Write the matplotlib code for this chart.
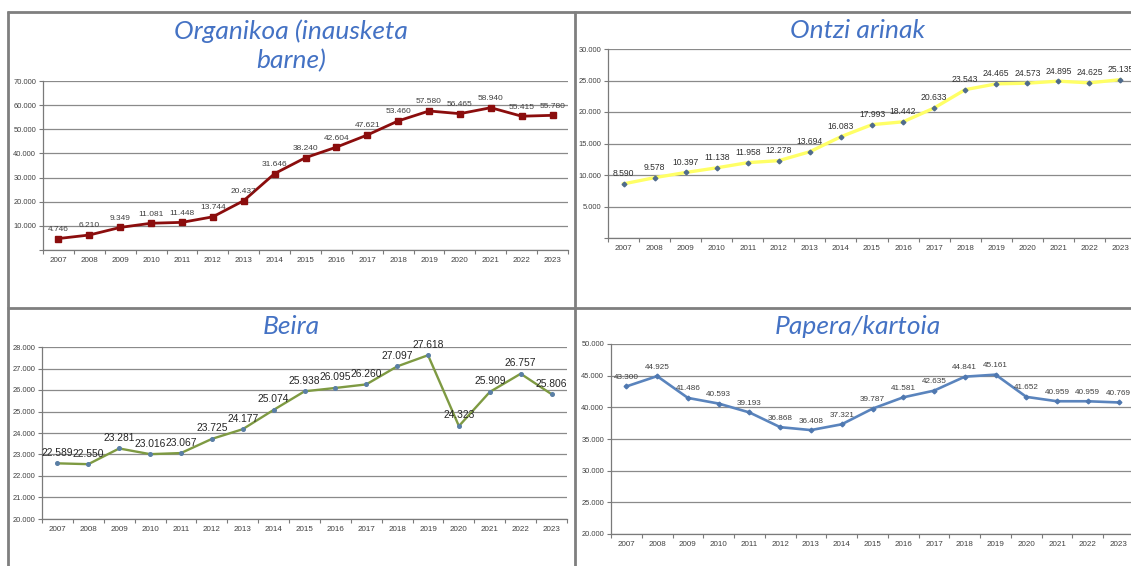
import matplotlib
matplotlib.use("Agg")
import matplotlib.pyplot as plt
from matplotlib.lines import Line2D
from matplotlib.ticker import FixedLocator, FuncFormatter

years = [str(y) for y in range(2007, 2024)]

organikoa = [4746, 6210, 9349, 11081, 11448, 13744, 20437, 31646, 38240,
             42604, 47621, 53460, 57580, 56465, 58940, 55415, 55780]
ontzi_arinak = [8590, 9578, 10397, 11138, 11958, 12278, 13694, 16083, 17993,
                18442, 20633, 23543, 24465, 24573, 24895, 24625, 25135]
beira = [22589, 22550, 23281, 23016, 23067, 23725, 24177, 25074, 25938,
         26095, 26260, 27097, 27618, 24323, 25909, 26757, 25806]
papera = [43300, 44925, 41486, 40593, 39193, 36868, 36408, 37321, 39787,
          41581, 42635, 44841, 45161, 41652, 40959, 40959, 40769]

titles = ["Organikoa (inausketa\nbarne)", "Ontzi arinak", "Beira", "Papera/kartoia"]

W, H = 1131, 566
plt.rcParams['font.family'] = ['Liberation Sans', 'DejaVu Sans']

fig = plt.figure(figsize=(W / 100, H / 100), dpi=100)
fig.patch.set_facecolor('white')


def px_rect(left, top, right, bottom):
    return [left / W, 1 - bottom / H, (right - left) / W, (bottom - top) / H]


def thousands(v, pos=None):
    return f"{int(round(v)):,}".replace(",", ".")


def draw_panel(rect, values, yticks, hide_zero, color, lw, marker, ms, mcolor,
               label_size, label_color):
    ax = fig.add_axes(px_rect(*rect))
    x = list(range(len(years)))
    ax.plot(x, values, color=color, lw=lw, marker=marker, ms=ms,
            mfc=mcolor, mec=mcolor, zorder=3, solid_joinstyle='round')
    for xi, v in zip(x, values):
        ax.annotate(thousands(v), (xi, v), xytext=(0, 4), textcoords='offset points',
                    ha='center', va='bottom', fontsize=label_size, color=label_color,
                    zorder=4)
    ax.set_xlim(-0.5, len(years) - 0.5)
    ax.set_ylim(yticks[0], yticks[-1])
    ax.yaxis.set_major_locator(FixedLocator(yticks))
    ax.yaxis.set_major_formatter(
        FuncFormatter(lambda v, p: "" if (hide_zero and v == 0) else thousands(v)))
    ax.grid(axis='y', color='#8a8a8a', lw=0.9, zorder=1)
    ax.set_axisbelow(True)

    # category axis: ticks between years, labels under each year
    ax.xaxis.set_major_locator(FixedLocator([i - 0.5 for i in range(len(years) + 1)]))
    ax.xaxis.set_major_formatter(FuncFormatter(lambda v, p: ""))
    ax.xaxis.set_minor_locator(FixedLocator(x))
    ax.set_xticklabels(years, minor=True)
    ax.tick_params(axis='x', which='minor', length=0, pad=5, labelsize=5.8,
                   labelcolor='#404040')
    ax.tick_params(axis='x', which='major', length=3, width=0.8, color='#7a7a7a',
                   direction='out')
    ax.tick_params(axis='y', length=3, width=0.8, color='#7a7a7a', direction='out',
                   labelsize=5.4, labelcolor='#404040', pad=2)

    for side in ['top', 'right']:
        ax.spines[side].set_visible(False)
    for side in ['left', 'bottom']:
        ax.spines[side].set_color('#7a7a7a')
        ax.spines[side].set_linewidth(0.9)
    return ax


draw_panel((43, 81, 568, 250), organikoa, list(range(0, 70001, 10000)), True,
           '#8b0d0d', 2.0, 's', 5.0, '#8b0d0d', 6.0, '#404040')
draw_panel((608, 49, 1136, 238), ontzi_arinak, list(range(0, 30001, 5000)), True,
           '#ffff66', 2.4, 'D', 2.4, '#4f6b8c', 6.2, '#303030')
draw_panel((42, 347, 567, 519), beira, list(range(20000, 28001, 1000)), False,
           '#7e9a42', 1.7, 'o', 2.6, '#5a7fa5', 7.4, '#262626')
draw_panel((611, 344, 1134, 534), papera, list(range(20000, 50001, 5000)), False,
           '#5a84bd', 1.9, 'D', 2.4, '#4f78b0', 5.9, '#404040')

# titles above each chart
title_kw = dict(ha='center', va='center', color='#4472c4', fontsize=19,
                fontstyle='italic', family=['Lato', 'DejaVu Sans'], linespacing=1.3)
fig.text(291 / W, 1 - 46 / H, titles[0], **title_kw)
fig.text(858 / W, 1 - 30 / H, titles[1], **title_kw)
fig.text(291 / W, 1 - 327 / H, titles[2], **title_kw)
fig.text(858 / W, 1 - 327 / H, titles[3], **title_kw)

# table borders around the four cells
border = dict(color='#7f7f7f', lw=2.0, transform=fig.transFigure, solid_capstyle='butt')
fig.add_artist(Line2D([8 / W, 8 / W], [1 - 11 / H, 0], **border))
fig.add_artist(Line2D([7 / W, 1], [1 - 12 / H, 1 - 12 / H], **border))
fig.add_artist(Line2D([575 / W, 575 / W], [1 - 11 / H, 0], **border))
fig.add_artist(Line2D([7 / W, 1], [1 - 308 / H, 1 - 308 / H], **border))

fig.savefig('out.png', dpi=100, facecolor='white')
